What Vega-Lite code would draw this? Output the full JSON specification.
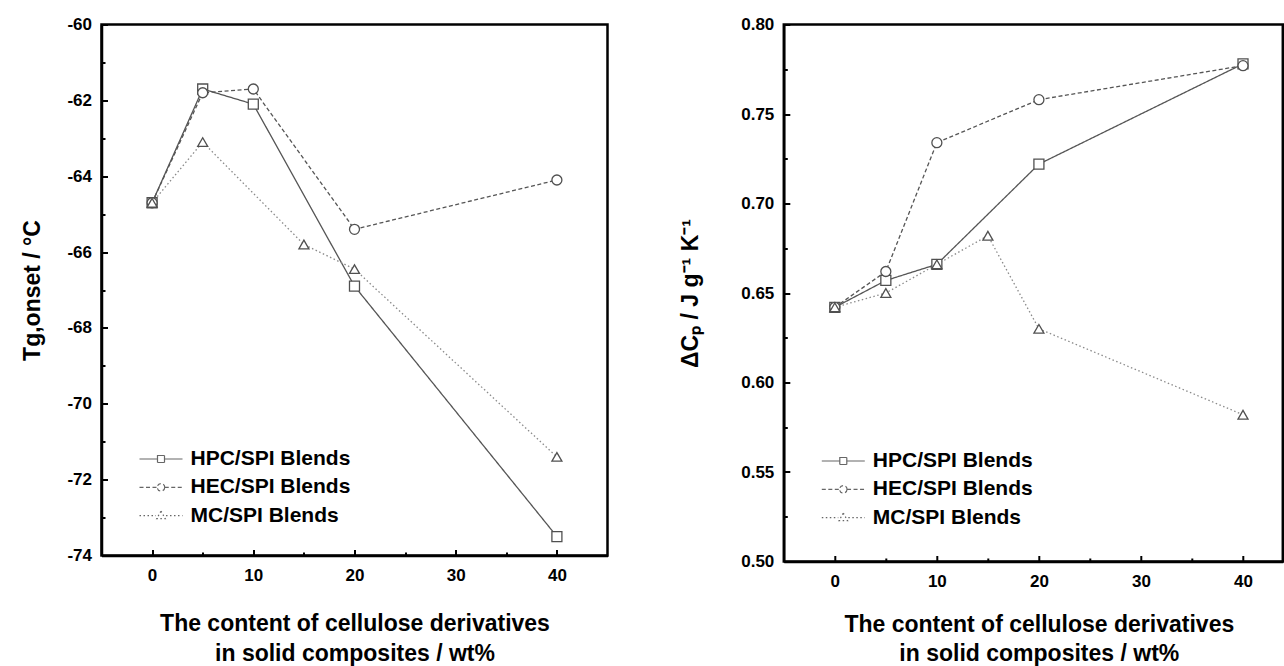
{
  "$schema": "https://vega.github.io/schema/vega-lite/v6.json",
  "padding": {"left": 20.5, "top": 13.5, "right": 0, "bottom": 0},
  "spacing": 68.3,
  "datasets": {
    "tg": [
      {"series": "HPC/SPI Blends", "content": 0, "tg": -64.7},
      {"series": "HPC/SPI Blends", "content": 5, "tg": -61.7},
      {"series": "HPC/SPI Blends", "content": 10, "tg": -62.1},
      {"series": "HPC/SPI Blends", "content": 20, "tg": -66.9},
      {"series": "HPC/SPI Blends", "content": 40, "tg": -73.5},
      {"series": "HEC/SPI Blends", "content": 0, "tg": -64.7},
      {"series": "HEC/SPI Blends", "content": 5, "tg": -61.8},
      {"series": "HEC/SPI Blends", "content": 10, "tg": -61.7},
      {"series": "HEC/SPI Blends", "content": 20, "tg": -65.4},
      {"series": "HEC/SPI Blends", "content": 40, "tg": -64.1},
      {"series": "MC/SPI Blends", "content": 0, "tg": -64.7},
      {"series": "MC/SPI Blends", "content": 5, "tg": -63.1},
      {"series": "MC/SPI Blends", "content": 15, "tg": -65.8},
      {"series": "MC/SPI Blends", "content": 20, "tg": -66.45},
      {"series": "MC/SPI Blends", "content": 40, "tg": -71.4}
    ],
    "cp": [
      {"series": "HPC/SPI Blends", "content": 0, "cp": 0.642},
      {"series": "HPC/SPI Blends", "content": 5, "cp": 0.657},
      {"series": "HPC/SPI Blends", "content": 10, "cp": 0.666},
      {"series": "HPC/SPI Blends", "content": 20, "cp": 0.722},
      {"series": "HPC/SPI Blends", "content": 40, "cp": 0.778},
      {"series": "HEC/SPI Blends", "content": 0, "cp": 0.642},
      {"series": "HEC/SPI Blends", "content": 5, "cp": 0.662},
      {"series": "HEC/SPI Blends", "content": 10, "cp": 0.734},
      {"series": "HEC/SPI Blends", "content": 20, "cp": 0.758},
      {"series": "HEC/SPI Blends", "content": 40, "cp": 0.777},
      {"series": "MC/SPI Blends", "content": 0, "cp": 0.642},
      {"series": "MC/SPI Blends", "content": 5, "cp": 0.650},
      {"series": "MC/SPI Blends", "content": 10, "cp": 0.666},
      {"series": "MC/SPI Blends", "content": 15, "cp": 0.682},
      {"series": "MC/SPI Blends", "content": 20, "cp": 0.630},
      {"series": "MC/SPI Blends", "content": 40, "cp": 0.582}
    ]
  },
  "config": {
    "font": "Liberation Sans",
    "view": {"stroke": "black", "strokeWidth": 2.5},
    "axis": {
      "domainColor": "black", "domainWidth": 2.5, "tickColor": "black", "tickWidth": 2,
      "labelFont": "Liberation Sans", "labelFontSize": 17, "labelFontWeight": "bold", "labelColor": "black",
      "titleFont": "Liberation Sans", "titleFontSize": 23, "titleFontWeight": "bold", "titleColor": "black",
      "grid": false, "labelOverlap": false, "labelFlush": false
    }
  },
  "resolve": {
    "scale": {"x": "independent", "y": "independent", "strokeDash": "independent", "color": "independent", "shape": "independent"},
    "legend": {"strokeDash": "independent"}
  },
  "hconcat": [
    {
      "width": 506, "height": 531,
      "data": {"name": "tg"},
      "resolve": {"axis": {"x": "independent", "y": "independent"}},
      "layer": [
        {
          "mark": {"type": "line", "strokeWidth": 1.3},
          "encoding": {
            "x": {"field": "content", "type": "quantitative", "scale": {"domain": [-5, 45], "nice": false, "zero": false},
              "axis": {"orient": "bottom", "values": [0, 10, 20, 30, 40], "tickSize": -6, "labelPadding": 18,
                "title": ["The content of cellulose derivatives", "in solid composites / wt%"], "titlePadding": 29, "titleLineHeight": 30}},
            "y": {"field": "tg", "type": "quantitative", "scale": {"domain": [-74, -60], "nice": false, "zero": false},
              "axis": {"orient": "left", "values": [-74, -72, -70, -68, -66, -64, -62, -60], "tickSize": -6, "labelPadding": 16,
                "labelExpr": "replace(datum.label, '\u2212', '-')",
                "title": "Tg,onset / °C", "titlePadding": 22}},
            "strokeDash": {"field": "series", "type": "nominal",
              "scale": {"domain": ["HPC/SPI Blends", "HEC/SPI Blends", "MC/SPI Blends"], "range": [[1, 0], [4, 2.5], [1.5, 2.5]]},
              "legend": {
                "orient": "none", "legendX": 46, "legendY": 421, "title": null, "padding": 0,
                "symbolSize": 625, "symbolStrokeWidth": 1.2, "symbolStrokeColor": "#666", "symbolFillColor": "white",
                "labelFont": "Liberation Sans", "labelFontSize": 21, "labelFontWeight": "bold", "labelColor": "black",
                "labelOffset": 16, "rowPadding": 4.3,
                "encode": {
                  "labels": {"update": {"text": {"signal": "datum.label == 'MC/SPI Blends' ? '\u00a0\u00a0MC/SPI Blends' : datum.label"}}},
                  "symbols": {"update": {"shape": {"signal": "datum.value === 'HPC/SPI Blends' ? 'M-1.72,0H-0.28M0.28,0H1.72M-0.28,-0.28H0.28V0.28H-0.28Z' : datum.value === 'HEC/SPI Blends' ? 'M-1.72,0H-0.3M0.3,0H1.72M0.3,0A0.3,0.3,0,1,1,-0.3,0A0.3,0.3,0,1,1,0.3,0Z' : 'M-1.72,0H-0.4M0.4,0H1.72M0,-0.36L0.34,0.24H-0.34Z'"}}}}
              }},
            "color": {"field": "series", "type": "nominal",
              "scale": {"domain": ["MC/SPI Blends", "HEC/SPI Blends", "HPC/SPI Blends"], "range": ["#8a8a8a", "#555555", "#555555"]},
              "legend": null}
          }
        },
        {
          "mark": {"type": "point", "filled": false, "fill": "white", "stroke": "#505050", "strokeWidth": 1.3, "size": 100, "opacity": 1},
          "encoding": {
            "x": {"field": "content", "type": "quantitative", "scale": {"domain": [-5, 45], "nice": false, "zero": false},
              "axis": {"orient": "bottom", "values": [5, 15, 25, 35], "labels": false, "domain": false, "tickSize": -3.5, "title": null}},
            "y": {"field": "tg", "type": "quantitative", "scale": {"domain": [-74, -60], "nice": false, "zero": false},
              "axis": {"orient": "left", "values": [-73, -71, -69, -67, -65, -63, -61], "labels": false, "domain": false, "tickSize": -3.5, "title": null}},
            "shape": {"field": "series", "type": "nominal",
              "scale": {"domain": ["MC/SPI Blends", "HEC/SPI Blends", "HPC/SPI Blends"], "range": ["triangle-up", "circle", "square"]},
              "legend": null}
          }
        }
      ]
    },
    {
      "width": 499, "height": 537,
      "data": {"name": "cp"},
      "resolve": {"axis": {"x": "independent", "y": "independent"}},
      "layer": [
        {
          "mark": {"type": "line", "strokeWidth": 1.3},
          "encoding": {
            "x": {"field": "content", "type": "quantitative", "scale": {"domain": [-5, 43.9], "nice": false, "zero": false},
              "axis": {"orient": "bottom", "values": [0, 10, 20, 30, 40], "tickSize": -6, "labelPadding": 18,
                "title": ["The content of cellulose derivatives", "in solid composites / wt%"], "titlePadding": 24, "titleLineHeight": 29, "titleX": 255}},
            "y": {"field": "cp", "type": "quantitative", "scale": {"domain": [0.5, 0.8], "nice": false, "zero": false},
              "axis": {"orient": "left", "values": [0.5, 0.55, 0.6, 0.65, 0.7, 0.75, 0.8], "format": ".2f", "tickSize": -6, "labelPadding": 16,
                "title": "ΔCₚ / J g⁻¹ K⁻¹", "titlePadding": 38}},
            "strokeDash": {"field": "series", "type": "nominal",
              "scale": {"domain": ["HPC/SPI Blends", "HEC/SPI Blends", "MC/SPI Blends"], "range": [[1, 0], [4, 2.5], [1.5, 2.5]]},
              "legend": {
                "orient": "none", "legendX": 46, "legendY": 423, "title": null, "padding": 0,
                "symbolSize": 625, "symbolStrokeWidth": 1.2, "symbolStrokeColor": "#666", "symbolFillColor": "white",
                "labelFont": "Liberation Sans", "labelFontSize": 21, "labelFontWeight": "bold", "labelColor": "black",
                "labelOffset": 16, "rowPadding": 4.3,
                "encode": {
                  "labels": {"update": {"text": {"signal": "datum.label == 'MC/SPI Blends' ? '\u00a0\u00a0MC/SPI Blends' : datum.label"}}},
                  "symbols": {"update": {"shape": {"signal": "datum.value === 'HPC/SPI Blends' ? 'M-1.72,0H-0.28M0.28,0H1.72M-0.28,-0.28H0.28V0.28H-0.28Z' : datum.value === 'HEC/SPI Blends' ? 'M-1.72,0H-0.3M0.3,0H1.72M0.3,0A0.3,0.3,0,1,1,-0.3,0A0.3,0.3,0,1,1,0.3,0Z' : 'M-1.72,0H-0.4M0.4,0H1.72M0,-0.36L0.34,0.24H-0.34Z'"}}}}
              }},
            "color": {"field": "series", "type": "nominal",
              "scale": {"domain": ["MC/SPI Blends", "HEC/SPI Blends", "HPC/SPI Blends"], "range": ["#8a8a8a", "#555555", "#555555"]},
              "legend": null}
          }
        },
        {
          "mark": {"type": "point", "filled": false, "fill": "white", "stroke": "#505050", "strokeWidth": 1.3, "size": 100, "opacity": 1},
          "encoding": {
            "x": {"field": "content", "type": "quantitative", "scale": {"domain": [-5, 43.9], "nice": false, "zero": false},
              "axis": {"orient": "bottom", "values": [5, 15, 25, 35], "labels": false, "domain": false, "tickSize": -3.5, "title": null}},
            "y": {"field": "cp", "type": "quantitative", "scale": {"domain": [0.5, 0.8], "nice": false, "zero": false},
              "axis": {"orient": "left", "values": [0.525, 0.575, 0.625, 0.675, 0.725, 0.775], "labels": false, "domain": false, "tickSize": -3.5, "title": null}},
            "shape": {"field": "series", "type": "nominal",
              "scale": {"domain": ["MC/SPI Blends", "HEC/SPI Blends", "HPC/SPI Blends"], "range": ["triangle-up", "circle", "square"]},
              "legend": null}
          }
        }
      ]
    }
  ]
}
